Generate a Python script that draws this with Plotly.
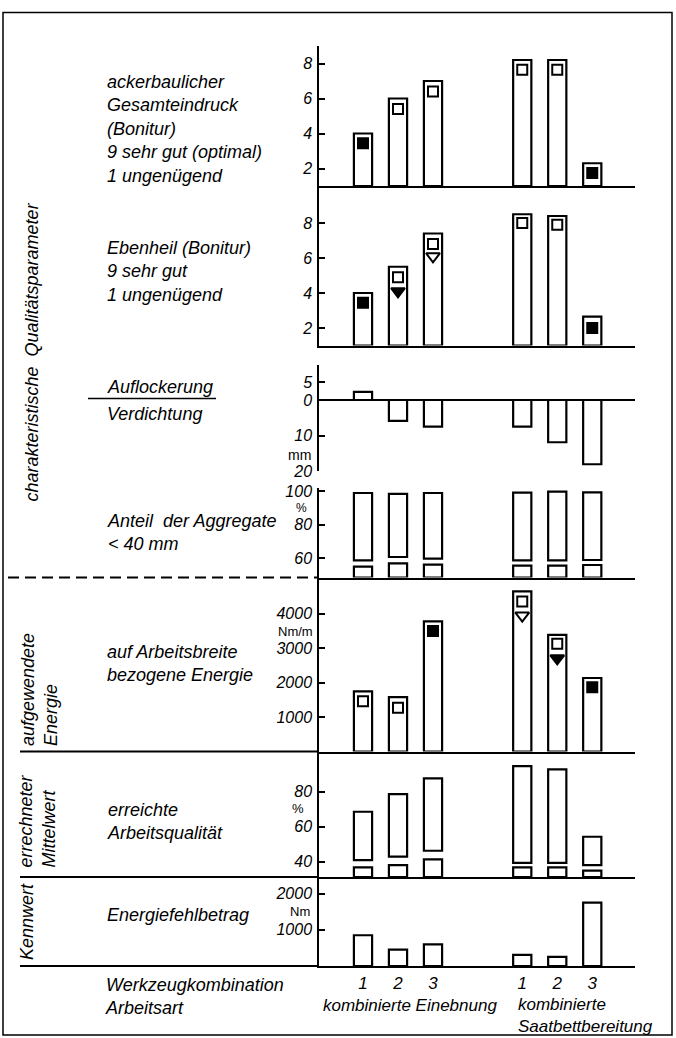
import plotly.graph_objects as go

W, H = 676, 1038

# ---------------- data ----------------
tool_labels = ["1", "2", "3", "1", "2", "3"]
tool_index = [1, 2, 3, 1, 2, 3]
group_index = [0, 0, 0, 1, 1, 1]
group_labels = ["kombinierte Einebnung", "kombinierte<br>Saatbettbereitung"]

# ackerbaulicher Gesamteindruck (Bonitur)
gesamt = [4.0, 6.0, 7.0, 8.2, 8.2, 2.3]
gesamt_open_sq = [None, 5.4, 6.4, 7.65, 7.65, None]
gesamt_filled_sq = [3.45, None, None, None, None, 1.75]

# Ebenheit (Bonitur)
eben = [4.0, 5.5, 7.4, 8.5, 8.4, 2.65]
eben_open_sq = [None, 4.9, 6.8, 8.0, 7.9, None]
eben_filled_sq = [3.45, None, None, None, None, 2.0]
eben_filled_tri = [None, 4.1, None, None, None, None]
eben_open_tri = [None, None, 6.1, None, None, None]

# Auflockerung (+) / Verdichtung (-), mm
lockerung = [2.3, -5.9, -7.5, -7.5, -11.9, -18.1]

# Anteil der Aggregate < 40 mm, %
aggregate = [99.0, 98.5, 99.0, 99.2, 99.8, 99.4]
agg_break_lo = [54.8, 56.8, 56.0, 55.4, 55.4, 55.8]
agg_break_hi = [58.6, 60.6, 59.6, 58.6, 58.6, 58.8]

# auf Arbeitsbreite bezogene Energie, Nm/m
energie = [1740, 1575, 3770, 4640, 3380, 2130]
energie_open_sq = [1460, 1270, None, 4350, 3120, None]
energie_filled_sq = [None, None, 3490, None, None, 1860]
energie_open_tri = [None, None, None, 3940, None, None]
energie_filled_tri = [None, None, None, None, 2700, None]

# erreichte Arbeitsqualitaet, %
qualitaet = [68.6, 78.7, 87.7, 94.7, 92.8, 54.3]
qual_break_lo = [36.8, 38.1, 41.4, 36.8, 36.8, 34.9]
qual_break_hi = [41.0, 42.9, 46.3, 39.4, 39.4, 38.1]

# Energiefehlbetrag, Nm
fehlbetrag = [850, 455, 600, 305, 250, 1750]

# tick definitions per panel
ticks = [
    ([2, 4, 6, 8, 9], ["2", "4", "6", "8", ""]),
    ([2, 4, 6, 8], ["2", "4", "6", "8"]),
    ([10, 5, 0, -10, -20], ["", "5", "0", "10", "20"]),
    ([60, 80, 100], ["60", "80", "100"]),
    ([1000, 2000, 3000, 4000], ["1000", "2000", "3000", "4000"]),
    ([40, 60, 80], ["40", "60", "80"]),
    ([1000, 2000], ["1000", "2000"]),
]

# ---------------- layout constants ----------------
FONT = "Liberation Sans"
GROUP_OFFSET = 4.55
X_L, X_R = 319, 635
PX_PER_X = 35.0
FIRST_BAR_PX = 363
BAR_W = 0.52

xs = [t + g * GROUP_OFFSET for t, g in zip(tool_index, group_index)]
x_min = 1 - (FIRST_BAR_PX - X_L) / PX_PER_X
x_range = [x_min, x_min + (X_R - X_L) / PX_PER_X]

panels = [
    dict(top=46, bot=186, vmin=1, ppu=17.5, base_line=True),
    dict(top=186, bot=345.5, vmin=1, ppu=17.5, base_line=True),
    dict(top=364.5, bot=471, vmin=-20, ppu=3.55, base_line=False),
    dict(top=488, bot=577.5, vmin=48.3, ppu=1.667, base_line=True),
    dict(top=577.5, bot=751.5, vmin=0, ppu=0.0345, base_line=True),
    dict(top=751.5, bot=877, vmin=31.3, ppu=1.75, base_line=True),
    dict(top=877, bot=966, vmin=0, ppu=0.0362, base_line=True),
]


def px(xp):
    return xp / W


def py(yp):
    return 1 - yp / H


def axname(i):
    return ("x" if i == 1 else f"x{i}"), ("y" if i == 1 else f"y{i}")


def it(s):
    return f"<i>{s}</i>" if s else s


fig = go.Figure()

BAR_STYLE = dict(color="white", line=dict(color="black", width=2.2))


def add_bars(i, tops, bases):
    xa, ya = axname(i)
    fig.add_trace(go.Bar(
        x=xs, y=[t - b for t, b in zip(tops, bases)], base=bases,
        width=BAR_W, marker=BAR_STYLE, xaxis=xa, yaxis=ya,
        showlegend=False, hoverinfo="skip"))


def add_marks(i, vals, symbol, filled, size=10):
    xa, ya = axname(i)
    fig.add_trace(go.Scatter(
        x=xs, y=vals, mode="markers", xaxis=xa, yaxis=ya,
        marker=dict(symbol=symbol, size=size,
                    color="black" if filled else "white",
                    line=dict(color="black", width=2)),
        showlegend=False, hoverinfo="skip", cliponaxis=False))


# panel 1
add_bars(1, gesamt, [1] * 6)
add_marks(1, gesamt_open_sq, "square", False)
add_marks(1, gesamt_filled_sq, "square", True)
# panel 2
add_bars(2, eben, [1] * 6)
add_marks(2, eben_open_sq, "square", False)
add_marks(2, eben_filled_sq, "square", True)
add_marks(2, eben_filled_tri, "triangle-down", True, 12)
add_marks(2, eben_open_tri, "triangle-down", False, 12)
# panel 3
add_bars(3, lockerung, [0] * 6)
# panel 4 (broken bars)
p4 = panels[3]["vmin"]
add_bars(4, agg_break_lo, [p4] * 6)
add_bars(4, aggregate, agg_break_hi)
# panel 5
add_bars(5, energie, [0] * 6)
add_marks(5, energie_open_sq, "square", False)
add_marks(5, energie_filled_sq, "square", True)
add_marks(5, energie_open_tri, "triangle-down", False, 12)
add_marks(5, energie_filled_tri, "triangle-down", True, 12)
# panel 6 (broken bars)
p6 = panels[5]["vmin"]
add_bars(6, qual_break_lo, [p6] * 6)
add_bars(6, qualitaet, qual_break_hi)
# panel 7
add_bars(7, fehlbetrag, [0] * 6)

tickfont = dict(family=FONT, size=16, color="black", style="italic")
layout = dict(
    template="none",
    width=W, height=H, margin=dict(l=0, r=0, t=0, b=0, pad=0, autoexpand=False),
    paper_bgcolor="white", plot_bgcolor="white", barmode="overlay",
    showlegend=False,
)

for i, p in enumerate(panels, start=1):
    xk = "xaxis" if i == 1 else f"xaxis{i}"
    yk = "yaxis" if i == 1 else f"yaxis{i}"
    xa, ya = axname(i)
    tv, tt = ticks[i - 1]
    layout[yk] = dict(
        domain=[py(p["bot"]), py(p["top"])], anchor=xa, automargin=False,
        range=[p["vmin"], p["vmin"] + (p["bot"] - p["top"]) / p["ppu"]],
        tickvals=tv, ticktext=[it(t) for t in tt], ticks="inside", ticklen=6,
        tickwidth=1.5, tickcolor="black", showline=True, linewidth=1.5,
        linecolor="black", showgrid=False, zeroline=(i == 3),
        zerolinecolor="black", zerolinewidth=2, tickfont=tickfont,
        ticklabelstandoff=2, fixedrange=True,
    )
    xd = dict(
        domain=[px(X_L), px(X_R)], anchor=ya, range=x_range, automargin=False,
        showline=p["base_line"], linewidth=2, linecolor="black",
        showgrid=False, zeroline=False, ticks="", fixedrange=True,
        showticklabels=False,
    )
    if i > 1:
        xd["matches"] = "x"
    if i == 7:
        xd.update(showticklabels=True, tickvals=xs,
                  ticktext=[it(t) for t in tool_labels],
                  tickfont=dict(family=FONT, size=17, color="black", style="italic"),
                  ticklabelstandoff=1)
    layout[xk] = xd

fig.update_layout(**layout)

# ---------------- frame & separators ----------------
shapes = [
    dict(type="rect", xref="paper", yref="paper", x0=px(3), x1=px(672),
         y0=py(1035), y1=py(12.5), line=dict(color="black", width=1.5)),
    dict(type="line", xref="paper", yref="paper", x0=px(8), x1=px(X_L),
         y0=py(577.5), y1=py(577.5), line=dict(color="black", width=2, dash="11px,6px")),
    dict(type="line", xref="paper", yref="paper", x0=px(88), x1=px(216),
         y0=py(398.5), y1=py(398.5), line=dict(color="black", width=1.5)),
]
for yy in (751.5, 877, 966):
    shapes.append(dict(type="line", xref="paper", yref="paper", x0=px(20), x1=px(X_L),
                       y0=py(yy), y1=py(yy), line=dict(color="black", width=2)))
fig.update_layout(shapes=shapes)

# ---------------- text ----------------
lab = dict(family=FONT, size=18, color="black", style="italic")
ann = []


def text_left(txt, ycen, x=105, font=lab):
    ann.append(dict(text=txt, xref="paper", yref="paper", x=px(x), y=py(ycen),
                    xanchor="left", yanchor="middle", align="left",
                    showarrow=False, font=font))


def text_rot(txt, xcen, ycen):
    ann.append(dict(text=txt, xref="paper", yref="paper", x=px(xcen), y=py(ycen),
                    xanchor="center", yanchor="middle", align="left", textangle=-90,
                    showarrow=False, font=lab))


text_left("ackerbaulicher<br>Gesamteindruck<br>(Bonitur)<br>9 sehr gut (optimal)<br>1 ungenügend", 129)
text_left("Ebenheil (Bonitur)<br>9 sehr gut<br>1 ungenügend", 271)
text_left("Auflockerung", 386.5)
text_left("Verdichtung", 413.5)
text_left("Anteil  der Aggregate<br>< 40 mm", 532.5)
text_left("auf Arbeitsbreite<br>bezogene Energie", 663)
text_left("erreichte<br>Arbeitsqualität", 821)
text_left("Energiefehlbetrag", 915)
text_left("Werkzeugkombination<br>Arbeitsart", 996, x=103)

text_rot("charakteristische  Qualitätsparameter", 31.5, 352)
text_rot("aufgewendete<br>Energie", 39, 690)
text_rot("errechneter<br>Mittelwert", 36.5, 821)
text_rot("Kennwert", 27, 922)

# group labels
grp_font = dict(family=FONT, size=17, color="black", style="italic")
text_left(group_labels[0], 1005, x=321, font=grp_font)
text_left(group_labels[1], 1015, x=516, font=grp_font)

# unit labels on the axes (placed in the gaps between tick labels)
for yref, val, txt, xr, size in [("y3", -15.5, "mm", 313, 14), ("y4", 90.2, "%", 309, 12),
                                 ("y5", 3490, "Nm/m", 315, 13), ("y6", 70.6, "%", 306, 13),
                                 ("y7", 1500, "Nm", 312, 13)]:
    ann.append(dict(text=txt, xref="paper", yref=yref, x=px(xr), y=val,
                    xanchor="right", yanchor="middle", showarrow=False,
                    font=dict(family=FONT, size=size, color="black")))

fig.update_layout(annotations=ann)

fig.write_html("out.html", config={"displayModeBar": False})
